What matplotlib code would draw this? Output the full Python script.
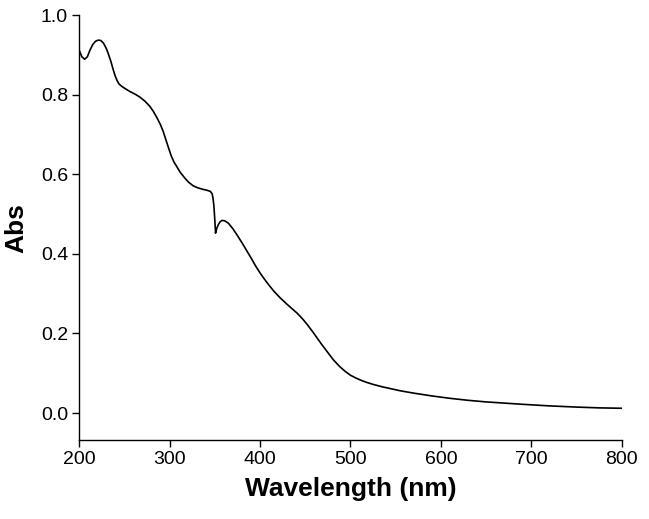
import matplotlib
matplotlib.use('Agg')
import matplotlib.pyplot as plt

# UV-Vis absorption spectrum
wavelength = [200, 201, 203, 206, 209, 212, 215, 218, 221, 224, 227, 230, 232, 235, 238,
              240, 242, 244, 247, 251, 256, 262, 267, 273, 278, 282, 286, 290, 293, 296,
              299, 302, 305, 308, 312, 317, 321, 326, 331, 337, 341, 345, 347, 348, 349,
              350, 350.8, 352, 354, 356, 358, 361, 365, 370, 375, 380, 385, 390, 395, 400,
              405, 410, 415, 422, 430, 437, 441, 444, 448, 452, 458, 463, 468, 475, 481,
              488, 494, 500, 506, 512, 518, 525, 535, 545, 555, 570, 590, 610, 630, 650,
              670, 690, 720, 750, 775, 800]
absorbance = [0.912, 0.906, 0.895, 0.889, 0.895, 0.912, 0.926, 0.934, 0.937, 0.936, 0.929,
              0.916, 0.904, 0.884, 0.860, 0.846, 0.835, 0.827, 0.821, 0.815, 0.808, 0.801,
              0.794, 0.783, 0.771, 0.758, 0.742, 0.724, 0.707, 0.686, 0.665, 0.645, 0.630,
              0.619, 0.604, 0.590, 0.580, 0.571, 0.566, 0.562, 0.560, 0.557, 0.551, 0.540,
              0.520, 0.485, 0.452, 0.463, 0.474, 0.481, 0.484, 0.483, 0.477, 0.463, 0.446,
              0.428, 0.409, 0.390, 0.370, 0.352, 0.336, 0.321, 0.307, 0.290, 0.273, 0.259,
              0.251, 0.244, 0.234, 0.223, 0.205, 0.189, 0.173, 0.152, 0.134, 0.117, 0.105,
              0.095, 0.088, 0.082, 0.077, 0.072, 0.066, 0.061, 0.056, 0.050, 0.043, 0.037,
              0.032, 0.028, 0.025, 0.022, 0.018, 0.015, 0.013, 0.012]

xticks = [200, 300, 400, 500, 600, 700, 800]
yticks = [0.0, 0.2, 0.4, 0.6, 0.8, 1.0]

plt.rcParams['font.family'] = ['Liberation Sans', 'DejaVu Sans']

fig = plt.figure(figsize=(6.49, 5.19), dpi=100)
ax = fig.add_axes([0.122, 0.152, 0.836, 0.819])

ax.plot(wavelength, absorbance, color='black', linewidth=1.2)

ax.set_xlim(200, 800)
ax.set_ylim(-0.068, 1.0)
ax.set_xticks(xticks)
ax.set_yticks(yticks)
ax.set_yticklabels([f'{v:.1f}' for v in yticks])

for side in ['top', 'right']:
    ax.spines[side].set_visible(False)
for side in ['left', 'bottom']:
    ax.spines[side].set_linewidth(1.0)

ax.tick_params(direction='out', length=5, width=1.0, labelsize=14, pad=3)

ax.set_xlabel('Wavelength (nm)', fontsize=19, fontweight='bold', labelpad=6)
ax.set_ylabel('Abs', fontsize=19, fontweight='bold', labelpad=9)

fig.savefig('out.png', dpi=100)
plt.close(fig)
